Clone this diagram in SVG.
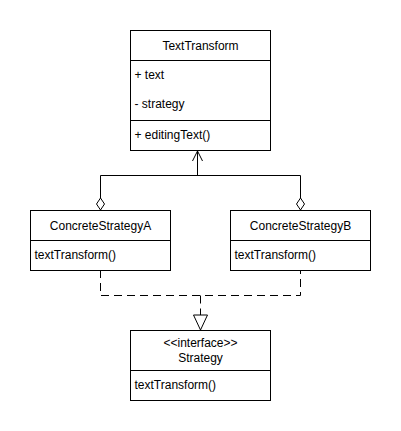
<svg xmlns="http://www.w3.org/2000/svg" width="401" height="431" viewBox="0 0 401 431">
<style>
.box{fill:#fff;stroke:#000;stroke-width:1}
.ln{fill:none;stroke:#000;stroke-width:1}
.dash{fill:none;stroke:#000;stroke-width:1;stroke-dasharray:8 5}
text{font-family:"Liberation Sans",Arial,sans-serif;font-size:12px;fill:#000;dominant-baseline:central}
.c{text-anchor:middle}
</style>
<rect width="401" height="431" fill="#fff"/>
<g id="connectors">
<path class="ln" d="M100.5 198 V175.5 H300.5 V198"/>
<path class="ln" d="M197.5 175.5 V151"/>
<path class="ln" d="M192.5 161 L197.5 151 L202.5 161"/>
<path class="box" d="M100.5 198 L104.5 204 L100.5 210 L96.5 204 Z"/>
<path class="box" d="M300.5 198 L304.5 204 L300.5 210 L296.5 204 Z"/>
<path class="dash" d="M100.5 270 V295.5 H300.5 V270"/>
<path class="dash" d="M200.5 295.5 V315"/>
<path class="box" d="M193.5 315 L207.5 315 L200.5 330 Z"/>
</g>
<g id="TextTransform">
<rect class="box" x="130.5" y="30.5" width="140" height="120"/>
<line class="ln" x1="130.5" y1="60.5" x2="270.5" y2="60.5"/>
<line class="ln" x1="130.5" y1="120.5" x2="270.5" y2="120.5"/>
<text class="c" x="200.5" y="45.5">TextTransform</text>
<text x="134.5" y="75">+ text</text>
<text x="134.5" y="104">- strategy</text>
<text x="134.5" y="134.5">+ editingText()</text>
</g>
<g id="ConcreteStrategyA">
<rect class="box" x="30.5" y="210.5" width="140" height="60"/>
<line class="ln" x1="30.5" y1="240.5" x2="170.5" y2="240.5"/>
<text class="c" x="100.5" y="225.5">ConcreteStrategyA</text>
<text x="34.5" y="254.5">textTransform()</text>
</g>
<g id="ConcreteStrategyB">
<rect class="box" x="230.5" y="210.5" width="140" height="60"/>
<line class="ln" x1="230.5" y1="240.5" x2="370.5" y2="240.5"/>
<text class="c" x="300.5" y="225.5">ConcreteStrategyB</text>
<text x="234.5" y="254.5">textTransform()</text>
</g>
<g id="Strategy">
<rect class="box" x="130.5" y="330.5" width="140" height="70"/>
<line class="ln" x1="130.5" y1="370.5" x2="270.5" y2="370.5"/>
<text class="c" x="200.5" y="342.5">&lt;&lt;interface&gt;&gt;</text>
<text class="c" x="200.5" y="357.5">Strategy</text>
<text x="134.5" y="385">textTransform()</text>
</g>
</svg>
